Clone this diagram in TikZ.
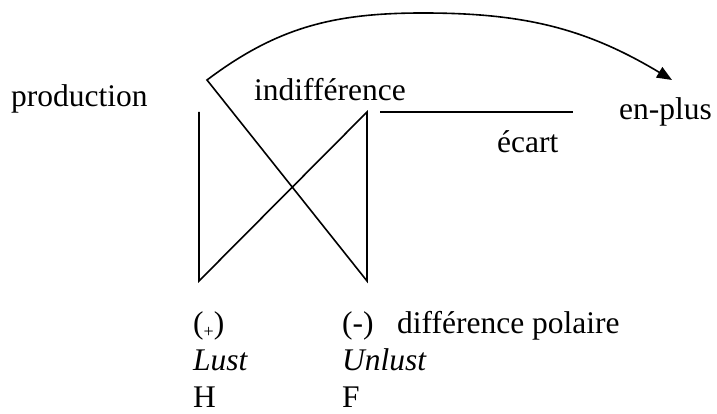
\documentclass[tikz,border=0pt]{standalone}
\usepackage{fontspec}
\setmainfont{Liberation Serif}
\usetikzlibrary{arrows.meta}
\begin{document}
\begin{tikzpicture}[x=1pt,y=1pt,
  lbl/.style={inner sep=0pt,anchor=base west,font=\fontsize{31.5}{36}\selectfont},
  stroke/.style={line width=1.6pt,line join=miter}]
\useasboundingbox (0,0) rectangle (717,414);
% texts
\node[lbl] (prod) at (11,307) {production};
\node[lbl] (indiff) at (254,313) {indifférence};
\node[lbl] (enplus) at (619,294) {en-plus};
\node[lbl] (ecart) at (497,261) {écart};
\node[lbl] (plus) at (193,80) {(\raisebox{-0.12em}{\fontsize{18}{18}\selectfont +})};
\node[lbl] (minus) at (342,80) {(-)};
\node[lbl] (dpol) at (397,80) {différence polaire};
\node[lbl] (lust) at (193,43) {\itshape Lust};
\node[lbl] (unlust) at (342,43) {\itshape Unlust};
\node[lbl] (H) at (193,6) {H};
\node[lbl] (F) at (342,6) {F};
% coordinates
\coordinate (A) at (199,302);
\coordinate (B) at (199,133);
\coordinate (C) at (367,302);
\coordinate (D) at (367,133);
\coordinate (P) at (207,334);
\coordinate (M) at (423,401);
\coordinate (E) at (672,334);
\coordinate (G1) at (380,302);
\coordinate (G2) at (573,302);
% drawing
\draw[stroke,-{Triangle[length=15pt,width=12pt]}] (A) -- (B) -- (C) -- (D) -- (P)
  to[out=37,in=180] (M) to[out=0,in=149] (E);
\draw[stroke] (G1) -- (G2);
\end{tikzpicture}
\end{document}
